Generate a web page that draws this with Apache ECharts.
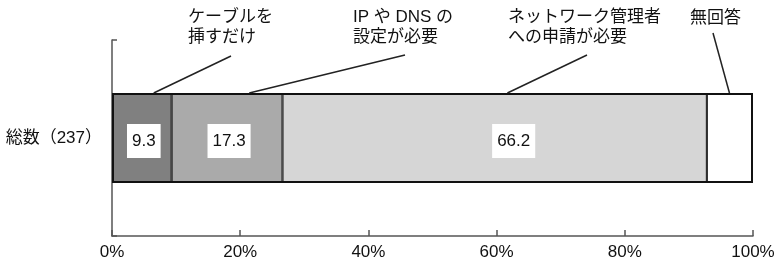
<!DOCTYPE html>
<html>
  <head>
    <meta charset="utf-8" />
    <title>ECharts</title>
    <style type="text/css">
      html,
      body {
        margin: 0;
        padding: 0;
        background: #fff;
      }
    </style>
    <script src="https://cdn.jsdelivr.net/npm/echarts@6/dist/echarts.min.js"></script>
  </head>
  <body>
    <div id="chart" style="width: 783px; height: 262px"></div>
    <script type="text/javascript">
      // データ
      var categories = ["総数（237）"];
      var segmentNames = [
        "ケーブルを\n挿すだけ",
        "IP や DNS の\n設定が必要",
        "ネットワーク管理者\nへの申請が必要",
        "無回答",
      ];
      var segmentValues = [9.3, 17.3, 66.2, 7.2];
      var showValue = [true, true, true, false];
      var total = [100];

      var colors = ["#808080", "#aaaaaa", "#d6d6d6", "#ffffff"];
      var font = "'Liberation Sans', 'Noto Sans CJK JP', sans-serif";
      var barW = 90;

      var chart = echarts.init(document.getElementById("chart"));

      var series = segmentValues.map(function (v, i) {
        return {
          name: segmentNames[i],
          type: "bar",
          stack: "total",
          barWidth: barW,
          barGap: "-100%",
          data: [v],
          itemStyle: {
            color: colors[i],
            borderColor: "#111",
            borderWidth: 1,
          },
          label: {
            show: showValue[i],
            position: "inside",
            offset: i === 2 ? [19, 3] : [2, 3],
            formatter: function (p) {
              return p.value.toFixed(1);
            },
            fontSize: 17,
            lineHeight: 18,
            color: "#111",
            fontFamily: font,
            backgroundColor: "#fff",
            padding: [8, 5],
          },
        };
      });
      // 外枠
      series.push({
        type: "bar",
        barWidth: barW,
        barGap: "-100%",
        data: total,
        silent: true,
        z: 3,
        itemStyle: {
          color: "rgba(0,0,0,0)",
          borderColor: "#111",
          borderWidth: 2,
        },
      });

      var option = {
        animation: false,
        grid: { left: 112, right: 30, top: 40, bottom: 26 },
        xAxis: {
          type: "value",
          min: 0,
          max: 100,
          interval: 20,
          axisLine: { show: true, lineStyle: { color: "#555", width: 1.5 } },
          axisTick: {
            show: true,
            inside: true,
            length: 6,
            lineStyle: { color: "#555", width: 1.5 },
          },
          splitLine: { show: false },
          axisLabel: {
            margin: 8,
            fontSize: 17,
            color: "#111",
            fontFamily: font,
            formatter: "{value}%",
          },
        },
        yAxis: {
          type: "category",
          data: categories,
          axisLine: { show: true, lineStyle: { color: "#555", width: 1.5 } },
          axisTick: {
            show: true,
            inside: true,
            length: 5,
            lineStyle: { color: "#555", width: 1.5 },
          },
          axisLabel: {
            margin: 10,
            fontSize: 17,
            color: "#111",
            fontFamily: font,
          },
        },
        series: series,
      };
      chart.setOption(option);

      // 引き出し線と見出し（バーの位置は軸から求める）
      var textPos = [
        [188, 7],
        [353, 7],
        [508, 7],
        [690, 8],
      ];
      var lineTop = [
        [231, 56],
        [405, 55],
        [587, 55],
        [713, 33],
      ];
      var anchorFrac = [0.7, 0.7, 0.53, 0.49];

      var graphics = [];
      var start = 0;
      segmentValues.forEach(function (v, i) {
        var val = start + v * anchorFrac[i];
        var p = chart.convertToPixel({ gridIndex: 0 }, [val, categories[0]]);
        var barTop = p[1] - barW / 2;
        graphics.push({
          type: "line",
          shape: {
            x1: lineTop[i][0],
            y1: lineTop[i][1],
            x2: p[0],
            y2: barTop,
          },
          style: { stroke: "#222", lineWidth: 1.5 },
          z: 10,
        });
        graphics.push({
          type: "text",
          x: textPos[i][0],
          y: textPos[i][1],
          style: {
            text: segmentNames[i],
            font: "17px " + font,
            fill: "#111",
            lineHeight: 20,
            verticalAlign: "top",
          },
        });
        start += v;
      });
      chart.setOption({ graphic: graphics });
    </script>
  </body>
</html>
